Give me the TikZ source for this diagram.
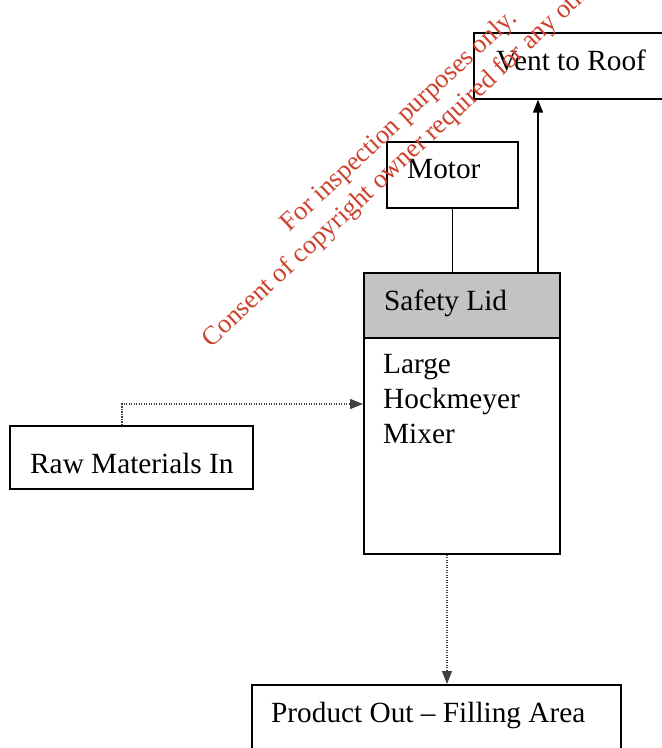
\documentclass[tikz,border=0pt]{standalone}
\usepackage{fontspec}
\setmainfont{Liberation Serif}
\usetikzlibrary{arrows.meta}
\definecolor{wmred}{RGB}{205,65,45}
\definecolor{lidgray}{RGB}{195,195,195}
\tikzset{
  box/.style={draw=black, line width=1.6pt, rectangle, inner sep=0pt, anchor=north west},
  lbl/.style={anchor=base west, inner sep=0pt, font=\fontsize{29.3}{35}\selectfont},
  wm/.style={anchor=base, inner sep=0pt, text=wmred, rotate=43, font=\fontsize{26.5}{32}\selectfont},
  solidarrow/.style={line width=1.4pt, -{Triangle[length=13pt,width=10pt]}},
  dotarrow/.style={line width=1.2pt, black!75, dash pattern=on 1.2pt off 1.3pt, -{Triangle[length=13pt,width=10pt]}},
  plainline/.style={line width=1.4pt}
}
\begin{document}
\begin{tikzpicture}[x=1pt,y=-1pt]
\useasboundingbox (0,0) rectangle (662,748);
\clip (0,0) rectangle (662,748);
% boxes
\node[box, minimum width=207pt, minimum height=66pt] (vent) at (473,32) {};
\node[box, minimum width=131pt, minimum height=66pt] (motor) at (386,141) {};
\node[box, fill=lidgray, minimum width=196pt, minimum height=65pt] (lid) at (363,272) {};
\node[box, minimum width=196pt, minimum height=216pt] (mixer) at (363,337) {};
\node[box, minimum width=243pt, minimum height=63pt] (raw) at (9,425) {};
\node[box, minimum width=369pt, minimum height=90pt] (product) at (251,684) {};
% texts
\node[lbl] (ventt) at (496,70) {Vent to Roof};
\node[lbl] (motort) at (407,178) {Motor};
\node[lbl] (lidt) at (384,310) {Safety Lid};
\node[lbl] (mix1) at (383,373) {Large};
\node[lbl] (mix2) at (383,408) {Hockmeyer};
\node[lbl] (mix3) at (383,443) {Mixer};
\node[lbl] (rawt) at (30,473) {Raw Materials In};
\node[lbl] (prodt) at (271,722) {Product Out -- Filling Area};
% connector helper coordinates
\coordinate (ventfoot) at (538,98);
\coordinate (rawbend) at (122,404);
\coordinate (mixout) at (447,553);
% connectors
\draw[plainline] (motor.south) -- (motor.south |- lid.north);
\draw[solidarrow] (lid.north -| ventfoot) -- (vent.south -| ventfoot);
\draw[dotarrow] (raw.north -| rawbend) -- (rawbend) -- (rawbend -| mixer.west);
\draw[dotarrow] (mixer.south -| mixout) -- (product.north -| mixout);
% watermark
\node[wm] (wm1) at (404,126) {For inspection purposes only.};
\node[wm] (wm2) at (425,149) {Consent of copyright owner required for any other use.};
\end{tikzpicture}
\end{document}
